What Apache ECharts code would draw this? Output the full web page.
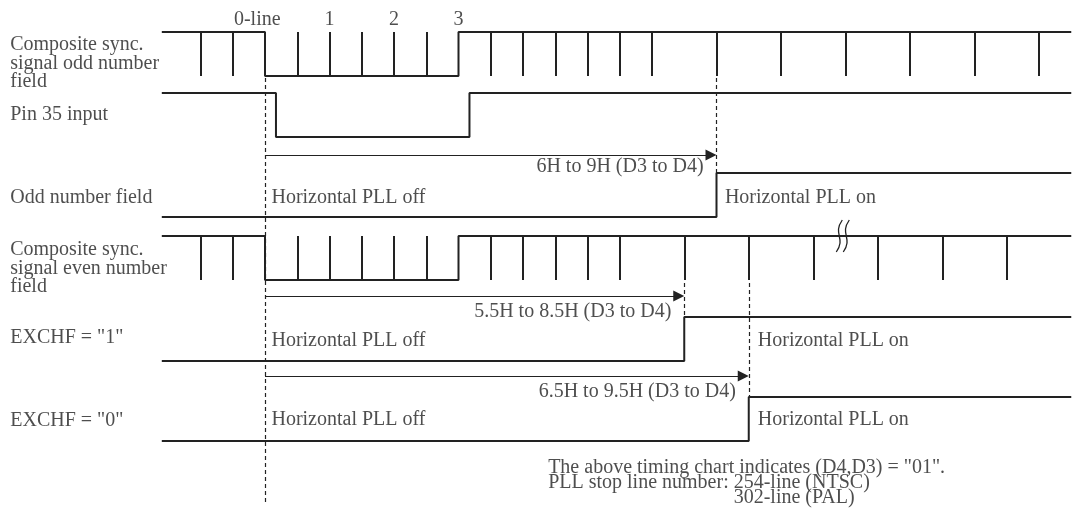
<!DOCTYPE html>
<html><head><meta charset="utf-8">
<script src="https://cdn.jsdelivr.net/npm/echarts@6/dist/echarts.min.js"></script>
<style>html,body{margin:0;padding:0;background:#fff}#c{width:1073px;height:520px}</style>
</head><body><div id="c"></div>
<script>
// ---------- data (time in units of H, 0 = "0-line") ----------
const lineStart = -1.6, lineEnd = 12.5;
const preEqTicks = [-1, -0.5];
const vsyncFall = 0, vsyncRise = 3;
const serrations = [0.5, 1, 1.5, 2, 2.5];
const oddPostTicks = [3.5, 4, 4.5, 5, 5.5, 6, 7, 8, 9, 10, 11, 12];
const evenPostTicks = [3.5, 4, 4.5, 5, 5.5, 6.5, 7.5, 8.5, 9.5, 10.5, 11.5];
const pin35Pulse = [0.17, 3.17];
const oddFieldRise = 7;
const exchf1Rise = 6.5;
const exchf0Rise = 7.5;
const breakAt = 8.95;
const lineNumbers = ['0-line', '1', '2', '3'];
const lineNumberAt = [-0.12, 1, 2, 3];
const signalNames = ['Composite sync.\nsignal odd number\nfield', 'Pin 35 input', 'Odd number field',
  'Composite sync.\nsignal even number\nfield', 'EXCHF = "1"', 'EXCHF = "0"'];
const delayLabels = ['6H to 9H (D3 to D4)', '5.5H to 8.5H (D3 to D4)', '6.5H to 9.5H (D3 to D4)'];
const delayEnds = [7, 6.5, 7.5];
const pllOffText = 'Horizontal PLL off', pllOnText = 'Horizontal PLL on';
const notes = ['The above timing chart indicates (D4,D3) = "01".', 'PLL stop line number: ', '254-line (NTSC)', '302-line (PAL)'];

// ---------- layout (vertical levels on a 0..520 layout axis) ----------
const L = { oddSync: [32, 76], pin35: [93, 137], oddField: [173, 217], evenSync: [236, 280], ex1: [317, 361], ex0: [397, 441] };
const arrowY = [155, 296, 376];
const PX_PER_H = 64.5, HEAD = 11;
const FONT = "'Liberation Serif','Times New Roman',serif";
const FS = 20, INK = '#222';

function syncWave(lv) { const [h, l] = lv; return [[lineStart, h], [vsyncFall, h], [vsyncFall, l], [vsyncRise, l], [vsyncRise, h], [lineEnd, h]]; }
function stepUp(lv, t) { const [h, l] = lv; return [[lineStart, l], [t, l], [t, h], [lineEnd, h]]; }
function pulseWave(lv, p) { const [h, l] = lv; return [[lineStart, h], [p[0], h], [p[0], l], [p[1], l], [p[1], h], [lineEnd, h]]; }
function ticks(lv, ts) { return ts.map(t => ({ coords: [[t, lv[0]], [t, lv[1]]] })); }

const waves = [syncWave(L.oddSync), pulseWave(L.pin35, pin35Pulse), stepUp(L.oddField, oddFieldRise),
  syncWave(L.evenSync), stepUp(L.ex1, exchf1Rise), stepUp(L.ex0, exchf0Rise)];

const tickSegs = [].concat(
  ticks(L.oddSync, preEqTicks), ticks(L.oddSync, serrations), ticks(L.oddSync, oddPostTicks),
  ticks(L.evenSync, preEqTicks), ticks(L.evenSync, serrations), ticks(L.evenSync, evenPostTicks));

const dashSegs = [
  { coords: [[0, 78], [0, 505]] },
  { coords: [[oddFieldRise, 78], [oddFieldRise, L.oddField[0]]] },
  { coords: [[exchf1Rise, 283], [exchf1Rise, L.ex1[0]]] },
  { coords: [[exchf0Rise, 283], [exchf0Rise, L.ex0[0]]] }
];
// arrow heads are centred on the segment end, so pull the end back by half a head length
const arrowSegs = delayEnds.map((e, i) => ({ coords: [[0, arrowY[i]], [e - HEAD / 2 / PX_PER_H, arrowY[i]]] }));

// width of the "PLL stop line number: " prefix so that the line numbers stack in one column
const mctx = document.createElement('canvas').getContext('2d');
mctx.font = FS + 'px ' + FONT;
const prefixW = mctx.measureText(notes[1]).width;

function txt(x, y, text, pos, align, extra) {
  return { value: [x, y], label: Object.assign({ show: true, formatter: text, position: pos, distance: 0, align: align }, extra || {}) };
}
const texts = [];
lineNumbers.forEach((s, i) => texts.push(txt(lineNumberAt[i], 20, s, 'inside', 'center')));
const nameY = [63.5, 115, 198, 268.5, 338, 421];
signalNames.forEach((s, i) => texts.push(txt(-3.95, nameY[i], s, 'right', 'left', { lineHeight: 18.5 })));
const delayTextY = [167, 312, 392];
delayLabels.forEach((s, i) => texts.push(txt(delayEnds[i] - 0.2, delayTextY[i], s, 'left', 'right')));
[198, 341, 420].forEach(y => texts.push(txt(0.1, y, pllOffText, 'right', 'left')));
texts.push(txt(7.13, 198, pllOnText, 'right', 'left'));
texts.push(txt(7.64, 341, pllOnText, 'right', 'left'));
texts.push(txt(7.64, 420, pllOnText, 'right', 'left'));
const noteX = 4.39, noteCol = noteX + prefixW / PX_PER_H;
texts.push(txt(noteX, 468, notes[0], 'right', 'left'));
texts.push(txt(noteX, 482.8, notes[1], 'right', 'left'));
texts.push(txt(noteCol, 482.8, notes[2], 'right', 'left'));
texts.push(txt(noteCol, 497.5, notes[3], 'right', 'left'));

const series = waves.map(w => ({
  type: 'line', data: w, showSymbol: false, silent: true, clip: false, animation: false,
  lineStyle: { width: 2, color: INK }
}));
series.push({ type: 'lines', coordinateSystem: 'cartesian2d', data: tickSegs, silent: true, animation: false,
  lineStyle: { width: 2, color: INK, opacity: 1 } });
series.push({ type: 'lines', coordinateSystem: 'cartesian2d', data: dashSegs, silent: true, animation: false,
  lineStyle: { width: 1.2, color: INK, type: [4, 3], opacity: 1 } });
series.push({ type: 'lines', coordinateSystem: 'cartesian2d', data: arrowSegs, silent: true, animation: false,
  symbol: ['none', 'triangle'], symbolSize: [8, HEAD],
  lineStyle: { width: 1.2, color: INK, opacity: 1 } });
series.push({ type: 'custom', data: [[breakAt, 220, 252]], silent: true, animation: false, clip: false,
  renderItem: function (params, api) {
    const a = api.coord([api.value(0), api.value(1)]);
    const b = api.coord([api.value(0), api.value(2)]);
    const curve = dx => ({ type: 'bezierCurve', shape: {
        x1: a[0] + dx + 3, y1: a[1], cpx1: a[0] + dx - 7, cpy1: a[1] + (b[1] - a[1]) * 0.45,
        cpx2: a[0] + dx + 7, cpy2: a[1] + (b[1] - a[1]) * 0.55, x2: a[0] + dx - 3, y2: b[1] },
      style: { stroke: INK, lineWidth: 1.3, fill: null } });
    return { type: 'group', children: [curve(-3), curve(4)] };
  } });
series.push({ type: 'scatter', data: texts, symbolSize: 0, silent: true, animation: false,
  label: { color: INK, fontFamily: FONT, fontSize: FS, verticalAlign: 'middle' } });

const chart = echarts.init(document.getElementById('c'), null, { renderer: 'canvas' });
chart.setOption({
  backgroundColor: '#fff',
  animation: false,
  grid: { left: 7, right: 1.75, top: 0, bottom: 0, containLabel: false },
  xAxis: { type: 'value', min: -4, max: 12.5, show: false },
  yAxis: { type: 'value', min: 0, max: 520, inverse: true, show: false },
  series: series
});
</script></body></html>
